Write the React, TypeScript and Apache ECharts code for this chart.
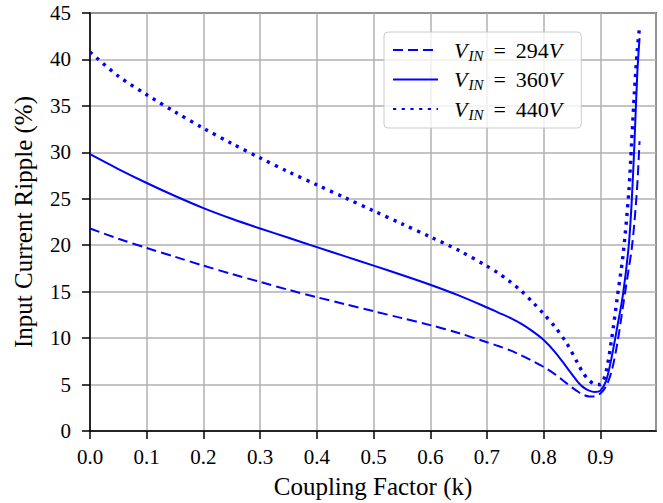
import React, { useEffect, useRef } from "react";
import * as echarts from "echarts";

const kValues = [0, 0.05, 0.1, 0.15, 0.2, 0.25, 0.3, 0.35, 0.4, 0.45, 0.5, 0.55, 0.6, 0.65, 0.7, 0.72, 0.74, 0.76, 0.78, 0.8, 0.82, 0.84, 0.86, 0.87, 0.88, 0.89, 0.9, 0.91, 0.92, 0.93, 0.94, 0.95, 0.955, 0.96, 0.965, 0.969];

const ripple294 = [21.8, 20.7, 19.7, 18.75, 17.8, 16.9, 16.05, 15.2, 14.4, 13.65, 12.9, 12.15, 11.4, 10.55, 9.55, 9.15, 8.7, 8.15, 7.55, 6.9, 6.1, 5.15, 4.25, 3.9, 3.72, 3.72, 4.05, 4.8, 6.5, 9.5, 13.5, 17.5, 19.5, 22.5, 26.5, 31.2];
const ripple360 = [29.8, 28.2, 26.7, 25.3, 24.0, 22.85, 21.8, 20.8, 19.8, 18.8, 17.8, 16.8, 15.75, 14.6, 13.3, 12.75, 12.2, 11.55, 10.75, 9.8, 8.5, 6.9, 5.3, 4.7, 4.35, 4.2, 4.35, 5.4, 8.0, 11.3, 14.8, 20.0, 24.5, 31.0, 38.5, 42.3];
const ripple440 = [40.8, 38.2, 36.2, 34.35, 32.6, 30.95, 29.4, 27.9, 26.5, 25.1, 23.7, 22.3, 20.9, 19.45, 17.75, 17.0, 16.1, 15.1, 13.9, 12.6, 11.2, 9.5, 7.3, 6.2, 5.45, 5.05, 5.0, 6.4, 10.0, 14.5, 19.0, 25.7, 31.0, 36.5, 41.0, 43.5];

const seriesNames = ["294", "360", "440"];
const yTicks = { min: 0, max: 45, interval: 5 };
const xTicks = { min: 0, max: 0.998, interval: 0.1 };

const FONT = "Liberation Serif";
const BLUE = "#0000ff";

const pairs = (vals: number[]) => kValues.map((k, i) => [k, vals[i]]);

export default function App() {
  const ref = useRef<HTMLDivElement>(null);
  useEffect(() => {
    if (!ref.current) return;
    const chart = echarts.init(ref.current, null, { renderer: "svg" });
    const rich = {
      v: { fontFamily: FONT, fontStyle: "italic", fontSize: 22, lineHeight: 26, color: "#000" },
      s: { fontFamily: FONT, fontStyle: "italic", fontSize: 15, lineHeight: 14, color: "#000", verticalAlign: "bottom", padding: [8, 0, 0, 1] },
      eq: { fontFamily: FONT, fontSize: 22, lineHeight: 26, color: "#000", padding: [0, 10, 0, 10] },
      n: { fontFamily: FONT, fontSize: 22, lineHeight: 26, color: "#000" },
    };
    const lineStyles = [
      { type: [10, 5], width: 2 },
      { type: "solid", width: 2 },
      { type: [3.2, 5.5], width: 3.4 },
    ];
    chart.setOption({
      animation: false,
      grid: {
        left: 90, right: 7, top: 13, bottom: 72,
        outerBoundsMode: "none", containLabel: false,
        show: true, borderColor: "#000", borderWidth: 1.5, backgroundColor: "transparent",
      },
      legend: {
        left: 384,
        top: 32,
        orient: "vertical",
        itemWidth: 45,
        itemHeight: 14,
        itemGap: 5.5,
        padding: [7, 19, 6, 8],
        backgroundColor: "rgba(255,255,255,0.8)",
        borderColor: "#cccccc",
        borderWidth: 1,
        borderRadius: 4,
        itemStyle: { opacity: 0 },
        data: seriesNames.map((n) => ({ name: n })),
        formatter: (name: string) => `{v|V}{s|IN}{eq|=}{n|${name}}{v|V}`,
        textStyle: { rich, padding: [0, 0, 0, 11] },
      },
      xAxis: {
        type: "value",
        min: xTicks.min,
        max: xTicks.max,
        interval: xTicks.interval,
        name: "Coupling Factor (k)",
        nameLocation: "middle",
        nameGap: 43,
        nameTextStyle: { fontFamily: FONT, fontSize: 25, color: "#000" },
        axisLine: { show: true, onZero: false, lineStyle: { color: "#000", width: 1.5 } },
        axisTick: { show: true, inside: false, length: 8, lineStyle: { color: "#000", width: 1.5 } },
        axisLabel: { fontFamily: FONT, fontSize: 21, color: "#000", margin: 15, showMaxLabel: false, formatter: (v: number) => v.toFixed(1) },
        splitLine: { show: true, lineStyle: { color: "#b0b0b0", width: 1.5 } },
      },
      yAxis: {
        type: "value",
        min: yTicks.min,
        max: yTicks.max,
        interval: yTicks.interval,
        name: "Input Current Ripple (%)",
        nameLocation: "middle",
        nameGap: 54,
        nameTextStyle: { fontFamily: FONT, fontSize: 25, color: "#000" },
        axisLine: { show: true, lineStyle: { color: "#000", width: 1.5 } },
        axisTick: { show: true, inside: false, length: 8, lineStyle: { color: "#000", width: 1.5 } },
        axisLabel: { fontFamily: FONT, fontSize: 21, color: "#000", margin: 19 },
        splitLine: { show: true, lineStyle: { color: "#b0b0b0", width: 1.5 } },
      },
      series: [ripple294, ripple360, ripple440].map((vals, i) => ({
        name: seriesNames[i],
        type: "line",
        data: pairs(vals),
        smooth: 0.3,
        symbol: "none",
        color: BLUE,
        lineStyle: { color: BLUE, ...lineStyles[i], cap: "butt" },
      })),
    });
    return () => chart.dispose();
  }, []);
  return <div ref={ref} style={{ position: "absolute", left: 0, top: 0, width: 663, height: 503 }} />;
}
